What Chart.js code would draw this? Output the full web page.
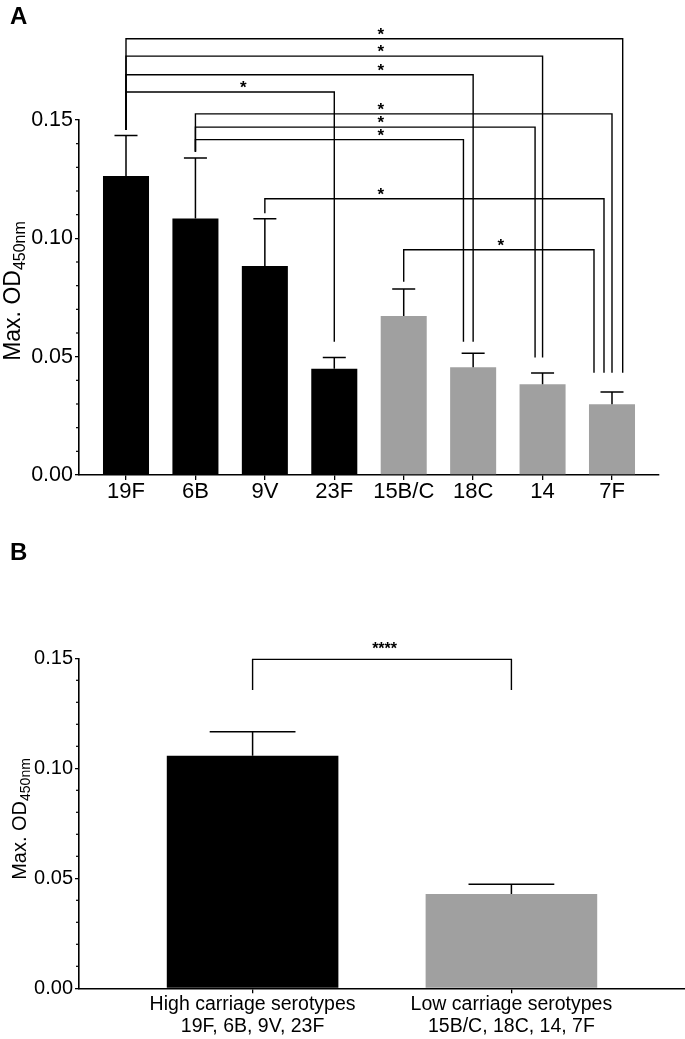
<!DOCTYPE html>
<html>
<head>
<meta charset="utf-8">
<title>Max. OD450nm by serotype</title>
<script src="https://cdn.jsdelivr.net/npm/chart.js@4.4.1/dist/chart.umd.min.js"></script>
<style>
  html, body { margin: 0; padding: 0; background: #fff; }
  .panel { position: relative; width: 685px; }
  .panel canvas { display: block; }
  .letter {
    position: absolute; left: 10px; line-height: 1;
    font: bold 24px "Liberation Sans", Arial, sans-serif; color: #000;
  }
</style>
</head>
<body>
<div class="panel">
  <div class="letter" style="top:2px">A</div>
  <canvas id="chart-a" width="685" height="520"></canvas>
</div>
<div class="panel">
  <div class="letter" style="top:18px">B</div>
  <canvas id="chart-b" width="685" height="519"></canvas>
</div>
<script>
// panel A: single serotypes
const serotypes = ["19F", "6B", "9V", "23F", "15B/C", "18C", "14", "7F"];
const carriage = ["high", "high", "high", "high", "low", "low", "low", "low"];
const meanOD = [0.1263, 0.1084, 0.0883, 0.0449, 0.0672, 0.0455, 0.0383, 0.0299];
const semOD = [0.0172, 0.0255, 0.0200, 0.0047, 0.0114, 0.0059, 0.0048, 0.0052];

// panel B: pooled groups
const groups = [["High carriage serotypes", "19F, 6B, 9V, 23F"], ["Low carriage serotypes", "15B/C, 18C, 14, 7F"]];
const groupCarriage = ["high", "low"];
const groupMean = [0.1057, 0.0429];
const groupSem = [0.0109, 0.0044];

const yTickValues = [0, 0.05, 0.10, 0.15];

// significance: [from, to, bracket level, left end, right end, mark, mark at]
const comparisonsA = [
    [0, 7, 0.1843, 0.1458, 0.0432, "*", 3.67],
    [0, 6, 0.1770, 0.1458, 0.0497, "*", 3.67],
    [0, 5, 0.1691, 0.1458, 0.0563, "*", 3.67],
    [0, 3, 0.1618, 0.1458, 0.0563, "*", 1.69],
    [1, 7, 0.1526, 0.1366, 0.0432, "*", 3.67],
    [1, 6, 0.1470, 0.1366, 0.0497, "*", 3.67],
    [1, 5, 0.1417, 0.1366, 0.0563, "*", 3.67],
    [2, 7, 0.1167, 0.1106, 0.0432, "*", 3.67],
    [4, 7, 0.0952, 0.0817, 0.0432, "*", 5.40]
];
const comparisonsB = [
    [0, 1, 0.1495, 0.1356, 0.1356, "****", 0.51]
];

const FONT = "'Liberation Sans', Arial, sans-serif";
const colorFor = g => g === "high" ? "#000000" : "#a0a0a0";

const errorBars = {
    id: "errorBars",
    afterDatasetsDraw(chart, args, opts) {
        const ctx = chart.ctx;
        const y = chart.scales.y;
        const meta = chart.getDatasetMeta(0);
        const values = chart.data.datasets[0].data;
        ctx.save();
        ctx.strokeStyle = "#000";
        ctx.lineWidth = 1.5;
        meta.data.forEach((bar, i) => {
            const top = y.getPixelForValue(values[i].y + opts.errors[i]);
            const half = bar.width / 4;
            ctx.beginPath();
            ctx.moveTo(bar.x, bar.y);
            ctx.lineTo(bar.x, top);
            ctx.moveTo(bar.x - half, top);
            ctx.lineTo(bar.x + half, top);
            ctx.stroke();
        });
        ctx.restore();
    }
};

const minorTicks = {
    id: "minorTicks",
    afterDraw(chart) {
        const ctx = chart.ctx;
        const y = chart.scales.y;
        const x0 = chart.chartArea.left;
        ctx.save();
        ctx.strokeStyle = "#000";
        ctx.lineWidth = 1.2;
        for (let k = 1; k < 15; k++) {
            if (k % 5 === 0) continue;
            const py = y.getPixelForValue(k / 100);
            ctx.beginPath();
            ctx.moveTo(x0 - 3, py);
            ctx.lineTo(x0, py);
            ctx.stroke();
        }
        ctx.restore();
    }
};

const yTitle = {
    id: "yTitle",
    afterDraw(chart, args, opts) {
        const ctx = chart.ctx;
        const main = "Max. OD";
        const sub = "450nm";
        ctx.save();
        ctx.translate(opts.x, opts.y);
        ctx.rotate(-Math.PI / 2);
        ctx.fillStyle = "#000";
        ctx.textBaseline = "alphabetic";
        ctx.textAlign = "left";
        ctx.font = opts.size + "px " + FONT;
        const wMain = ctx.measureText(main).width;
        ctx.font = opts.subSize + "px " + FONT;
        const wSub = ctx.measureText(sub).width;
        const start = -(wMain + wSub) / 2;
        const base = opts.size * 0.716 / 2;
        ctx.font = opts.size + "px " + FONT;
        ctx.fillText(main, start, base);
        ctx.font = opts.subSize + "px " + FONT;
        ctx.fillText(sub, start + wMain, base + opts.subSize * 0.3);
        ctx.restore();
    }
};

const brackets = {
    id: "brackets",
    afterDraw(chart, args, opts) {
        const ctx = chart.ctx;
        const x = chart.scales.x;
        const y = chart.scales.y;
        ctx.save();
        ctx.strokeStyle = "#000";
        ctx.fillStyle = "#000";
        ctx.lineWidth = 1.4;
        ctx.font = opts.font;
        ctx.textAlign = "center";
        opts.items.forEach((c, k) => {
            const [from, to, level, leftEnd, rightEnd, mark, markAt] = c;
            const x1 = x.getPixelForValue(from);
            const x2 = x.getPixelForValue(to) + (opts.shift[k] || 0);
            const yl = y.getPixelForValue(level);
            ctx.beginPath();
            ctx.moveTo(x1, y.getPixelForValue(leftEnd));
            ctx.lineTo(x1, yl);
            ctx.lineTo(x2, yl);
            ctx.lineTo(x2, y.getPixelForValue(rightEnd));
            ctx.stroke();
            ctx.fillText(mark, x.getPixelForValue(markAt), yl - opts.lift);
        });
        ctx.restore();
    }
};

function makeChart(id, cfg) {
    const labels = cfg.labels;
    return new Chart(document.getElementById(id), {
        type: "bar",
        data: {
            datasets: [{
                data: labels.map((l, i) => ({ x: i, y: cfg.means[i] })),
                backgroundColor: cfg.groups.map(colorFor),
                borderWidth: 0,
                barPercentage: 0.663,
                categoryPercentage: 1
            }]
        },
        options: {
            responsive: false,
            devicePixelRatio: 1,
            animation: false,
            layout: { padding: { top: cfg.top, right: cfg.right, left: 0, bottom: 0 } },
            plugins: {
                legend: { display: false },
                tooltip: { enabled: false },
                errorBars: { errors: cfg.errors },
                yTitle: cfg.title,
                brackets: cfg.brackets
            },
            scales: {
                x: {
                    type: "linear",
                    min: -cfg.edge,
                    max: labels.length - 1 + cfg.edge,
                    offset: false,
                    afterBuildTicks: sc => { sc.ticks = labels.map((l, i) => ({ value: i })); },
                    afterFit: sc => { sc.height = cfg.xHeight; },
                    ticks: {
                        autoSkip: false,
                        maxRotation: 0,
                        padding: cfg.xPad,
                        color: "#000",
                        font: { family: FONT, size: cfg.xFont, lineHeight: 1.1 },
                        callback: (v, i) => labels[i]
                    },
                    grid: { display: true, offset: false, drawOnChartArea: false, tickLength: 5, color: "#000", lineWidth: 1.3 },
                    border: { display: true, color: "#000", width: 1.6 }
                },
                y: {
                    min: 0,
                    max: 0.15,
                    afterBuildTicks: sc => { sc.ticks = yTickValues.map(v => ({ value: v })); },
                    afterFit: sc => { sc.width = 79; },
                    ticks: {
                        padding: 2,
                        color: "#000",
                        font: { family: FONT, size: cfg.yFont },
                        callback: v => v.toFixed(2)
                    },
                    grid: { display: true, drawOnChartArea: false, tickLength: 4, color: "#000", lineWidth: 1.3 },
                    border: { display: true, color: "#000", width: 1.6 }
                }
            }
        },
        plugins: [errorBars, minorTicks, yTitle, brackets]
    });
}

makeChart("chart-a", {
    labels: serotypes,
    groups: carriage,
    means: meanOD,
    errors: semOD,
    edge: 0.677,
    top: 120,
    right: 26,
    xHeight: 45,
    xFont: 22,
    xPad: 0,
    yFont: 21.5,
    title: { x: 12, y: 291, size: 23, subSize: 16 },
    brackets: {
        items: comparisonsA,
        shift: [10.7, 0, 0, 0, 0, -7.5, -9.7, -8, -18],
        font: "bold 17px " + FONT,
        lift: -1
    }
});

makeChart("chart-b", {
    labels: groups,
    groups: groupCarriage,
    means: groupMean,
    errors: groupSem,
    edge: 0.6707,
    top: 138.3,
    right: 0,
    xHeight: 50.7,
    xFont: 19.5,
    xPad: 1,
    yFont: 20,
    title: { x: 19, y: 299, size: 20, subSize: 14 },
    brackets: {
        items: comparisonsB,
        shift: [0],
        font: "bold 16px " + FONT,
        lift: 5
    }
});
</script>
</body>
</html>
